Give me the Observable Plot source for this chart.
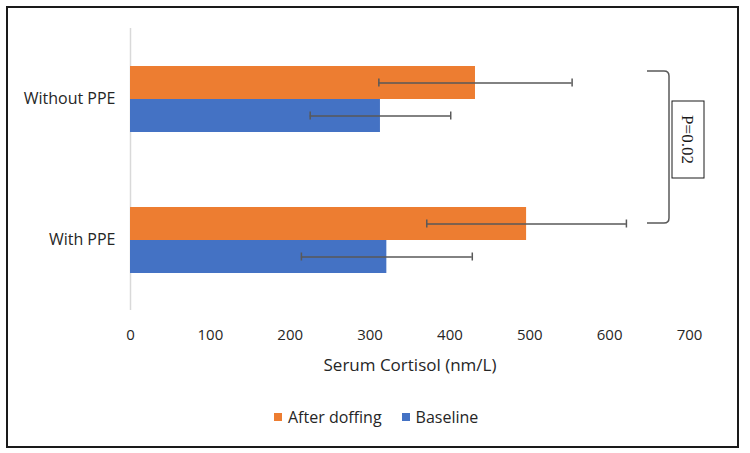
<!DOCTYPE html>
<html>
<head>
<meta charset="utf-8">
<script src="https://cdn.jsdelivr.net/npm/d3@7"></script>
<script src="https://cdn.jsdelivr.net/npm/@observablehq/plot@0.6"></script>
<style>
  html, body { margin: 0; padding: 0; background: #fff; }
  body { width: 750px; height: 453px; position: relative; overflow: hidden; font-family: "Open Sans", sans-serif; }
  #frame { position: absolute; left: 6px; top: 6px; width: 729px; height: 438px; border: 2px solid #1a1a1a; }
  #chart { position: absolute; left: 0; top: 0; }
  #legend { position: absolute; left: 274px; top: 406px; display: flex; align-items: center; font-size: 16px; color: #262626; }
  #legend .sw { width: 8px; height: 8px; display: inline-block; margin-right: 6px; }
  #legend .item { display: flex; align-items: center; margin-right: 20px; }
  #annot { position: absolute; left: 0; top: 0; }
</style>
</head>
<body>
<div id="frame"></div>
<div id="chart"></div>
<div id="legend"></div>
<svg id="annot" width="750" height="453"></svg>
<script>
// ---- data ----
const categories = ["Without PPE", "With PPE"];
const series = ["After doffing", "Baseline"];
const afterMean = [432, 496];
const afterSD = [121, 125];
const baselineMean = [313, 321];
const baselineSD = [88, 107];
const xTicks = [0, 100, 200, 300, 400, 500, 600, 700];
const colors = ["#ED7D31", "#4472C4"];
const pLabel = "P=0.02";

const data = categories.flatMap((c, i) => [
  {category: c, series: series[0], mean: afterMean[i], sd: afterSD[i]},
  {category: c, series: series[1], mean: baselineMean[i], sd: baselineSD[i]}
]);

const capStroke = "#595959";
const chart = Plot.plot({
  width: 750,
  height: 453,
  marginLeft: 130,
  marginRight: 61,
  marginTop: 27,
  marginBottom: 143,
  style: {fontFamily: "Open Sans", fontSize: "15px", color: "#262626", background: "transparent", overflow: "visible"},
  x: {domain: [0, 700], ticks: xTicks, tickSize: 0, tickPadding: 19, label: "Serum Cortisol (nm/L)", labelAnchor: "center", labelArrow: "none", labelOffset: 60},
  fy: {domain: categories, padding: 0, axis: "left", label: null, tickSize: 0, tickPadding: 15},
  y: {domain: series, paddingInner: 0, paddingOuter: 1.112, axis: null},
  color: {domain: series, range: colors},
  marks: [
    Plot.ruleX([0], {stroke: "#d9d9d9", strokeWidth: 1.5}),
    Plot.barX(data, {x: "mean", y: "series", fy: "category", fill: "series"}),
    Plot.ruleY(data, {x1: d => d.mean - d.sd, x2: d => d.mean + d.sd, y: "series", fy: "category", stroke: capStroke, strokeWidth: 1.5}),
    Plot.tickX(data, {x: d => d.mean - d.sd, y: "series", fy: "category", stroke: capStroke, strokeWidth: 1.5, insetTop: 12.5, insetBottom: 12.5}),
    Plot.tickX(data, {x: d => d.mean + d.sd, y: "series", fy: "category", stroke: capStroke, strokeWidth: 1.5, insetTop: 12.5, insetBottom: 12.5})
  ]
});
document.getElementById("chart").appendChild(chart);
// enlarge axis title and category labels
chart.querySelectorAll("text").forEach(t => {
  const s = t.textContent;
  if (s.includes("Serum")) { t.setAttribute("font-size", "17"); t.style.fontSize = "17px"; }
  if (categories.includes(s)) { t.setAttribute("font-size", "16"); t.style.fontSize = "16px"; }
});
chart.querySelectorAll("g").forEach(g => {
  const ts = g.querySelectorAll(":scope > text");
  if (ts.length && [...ts].some(t => t.textContent.includes("Serum"))) { g.setAttribute("font-size", "17"); }
  if (ts.length && [...ts].some(t => categories.includes(t.textContent))) { g.setAttribute("font-size", "16"); }
});

// legend
const lg = document.getElementById("legend");
series.forEach((s, i) => {
  const it = document.createElement("span");
  it.className = "item";
  const sw = document.createElement("span");
  sw.className = "sw";
  sw.style.background = colors[i];
  it.appendChild(sw);
  it.appendChild(document.createTextNode(s));
  lg.appendChild(it);
});

// annotation: bracket + p-value box
const svg = d3.select("#annot");
svg.append("path")
  .attr("d", "M647,71 L664,71 Q669,71 669,76 L669,218 Q669,223 664,223 L647,223")
  .attr("fill", "none").attr("stroke", "#595959").attr("stroke-width", 1.5);
svg.append("rect").attr("x", 672).attr("y", 101).attr("width", 32).attr("height", 77)
  .attr("fill", "#fff").attr("stroke", "#1a1a1a").attr("stroke-width", 1);
svg.append("text").attr("transform", "translate(688,139.5) rotate(90)")
  .attr("text-anchor", "middle").attr("dy", "0.35em")
  .attr("font-family", "Liberation Serif").attr("font-size", 17).attr("fill", "#1a1a1a")
  .text(pLabel);
</script>
</body>
</html>
